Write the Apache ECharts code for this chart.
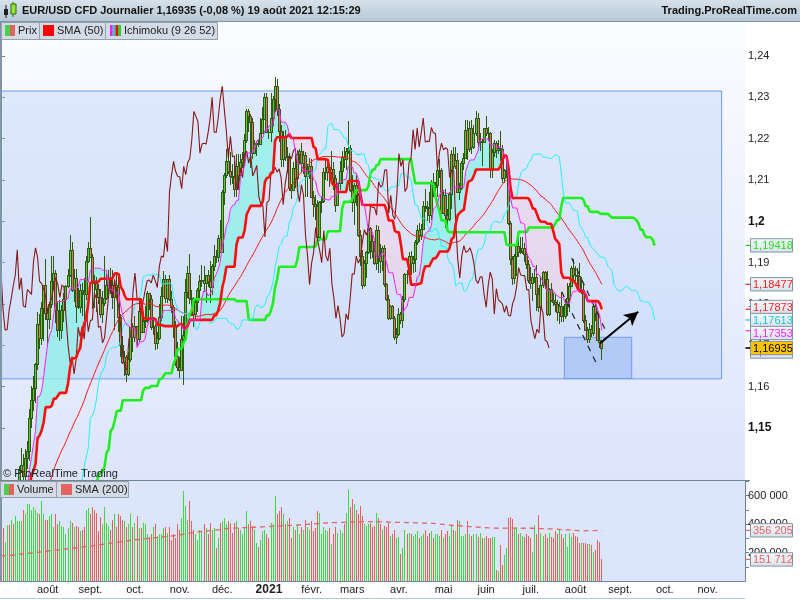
<!DOCTYPE html>
<html><head><meta charset="utf-8">
<script src="https://cdn.jsdelivr.net/npm/echarts@6/dist/echarts.min.js"></script>
<style>html,body{margin:0;padding:0;background:#fff}#c{width:800px;height:600px}</style>
</head><body><div id="c"></div><script>
// ---------- DATA ----------
const monthNames = ['janv.','févr.','mars','avr.','mai','juin','juil.','août','sept.','oct.','nov.','déc.'];
const firstDay = [2020, 6, 1];       // 1 July 2020 (month 0-based)
const slotCount = 367;               // trading-day slots up to end of Nov 2021

// history before the window (17 Apr - 30 Jun 2020), used only for the indicators
const preHigh = [1.0900,1.0900,1.0890,1.0880,1.0850,1.0827,1.0860,1.0890,1.0880,1.0973,1.1019,1.0980,1.0920,1.0845,1.0840,1.0890,1.0845,1.0875,1.0870,1.0820,1.0830,1.0925,1.0976,1.0985,1.1009,1.0952,1.0915,1.0995,1.1035,1.1093,1.1147,1.1153,1.1195,1.1258,1.1365,1.1384,1.1324,1.1350,1.1422,1.1385,1.1325,1.1325,1.1350,1.1296,1.1263,1.1226,1.1270,1.1349,1.1323,1.1260,1.1247,1.1288,1.1260];
const preLow = [1.0813,1.0850,1.0815,1.0825,1.0757,1.0760,1.0815,1.0812,1.0811,1.0840,1.0935,1.0895,1.0828,1.0782,1.0767,1.0820,1.0794,1.0800,1.0805,1.0775,1.0775,1.0805,1.0887,1.0925,1.0940,1.0870,1.0880,1.0898,1.0965,1.0980,1.1070,1.1082,1.1120,1.1165,1.1216,1.1272,1.1242,1.1260,1.1320,1.1282,1.1205,1.1213,1.1255,1.1216,1.1195,1.1168,1.1170,1.1252,1.1246,1.1183,1.1200,1.1205,1.1192];
const preClose = [1.0875,1.0863,1.0855,1.0823,1.0775,1.0820,1.0827,1.0822,1.0875,1.0955,1.0982,1.0905,1.0840,1.0795,1.0830,1.0840,1.0805,1.0850,1.0815,1.0805,1.0820,1.0915,1.0922,1.0975,1.0945,1.0900,1.0900,1.0980,1.1005,1.1077,1.1100,1.1135,1.1170,1.1235,1.1340,1.1290,1.1295,1.1340,1.1370,1.1300,1.1255,1.1320,1.1265,1.1250,1.1205,1.1175,1.1260,1.1310,1.1250,1.1220,1.1220,1.1240,1.1234];

// daily candles 1 Jul 2020 - 19 Aug 2021 : [open, high, low, close]
const priceRows = [
[1.1234,1.1270,1.1192,1.1250],[1.1250,1.1303,1.1232,1.1238],[1.1238,1.1264,1.1226,1.1245],[1.1245,1.1346,1.1240,1.1310],[1.1310,1.1318,1.1260,1.1274],
[1.1274,1.1345,1.1262,1.1330],[1.1330,1.1372,1.1273,1.1287],[1.1287,1.1318,1.1254,1.1300],[1.1300,1.1375,1.1298,1.1341],[1.1341,1.1408,1.1325,1.1398],
[1.1398,1.1452,1.1390,1.1411],[1.1411,1.1436,1.1371,1.1383],[1.1383,1.1450,1.1375,1.1428],[1.1428,1.1469,1.1402,1.1444],[1.1444,1.1546,1.1420,1.1525],
[1.1525,1.1602,1.1500,1.1568],[1.1568,1.1626,1.1541,1.1596],[1.1596,1.1658,1.1560,1.1655],[1.1655,1.1781,1.1640,1.1752],[1.1752,1.1776,1.1690,1.1717],
[1.1717,1.1805,1.1700,1.1790],[1.1790,1.1845,1.1711,1.1845],[1.1845,1.1909,1.1762,1.1778],
[1.1778,1.1790,1.1696,1.1763],[1.1763,1.1806,1.1740,1.1800],[1.1800,1.1916,1.1790,1.1856],[1.1856,1.1916,1.1835,1.1876],[1.1876,1.1882,1.1753,1.1786],
[1.1786,1.1806,1.1721,1.1737],[1.1737,1.1810,1.1711,1.1738],[1.1738,1.1798,1.1715,1.1785],[1.1785,1.1826,1.1756,1.1812],[1.1812,1.1845,1.1788,1.1843],
[1.1843,1.1885,1.1838,1.1869],[1.1869,1.1966,1.1866,1.1931],[1.1931,1.1950,1.1829,1.1835],[1.1835,1.1884,1.1804,1.1863],[1.1863,1.1884,1.1753,1.1795],
[1.1795,1.1838,1.1788,1.1792],[1.1792,1.1848,1.1778,1.1835],[1.1835,1.1850,1.1770,1.1830],[1.1830,1.1864,1.1762,1.1823],[1.1823,1.1915,1.1810,1.1903],
[1.1903,1.1950,1.1900,1.1936],
[1.1936,1.2011,1.1913,1.1913],[1.1913,1.1922,1.1789,1.1855],[1.1855,1.1869,1.1790,1.1850],[1.1850,1.1865,1.1781,1.1837],[1.1837,1.1849,1.1800,1.1817],
[1.1817,1.1836,1.1767,1.1777],[1.1777,1.1831,1.1753,1.1803],[1.1803,1.1917,1.1795,1.1814],[1.1814,1.1872,1.1810,1.1845],[1.1845,1.1883,1.1822,1.1864],
[1.1864,1.1887,1.1823,1.1846],[1.1846,1.1882,1.1789,1.1816],[1.1816,1.1828,1.1737,1.1846],[1.1846,1.1872,1.1823,1.1841],[1.1841,1.1872,1.1733,1.1769],
[1.1769,1.1777,1.1672,1.1702],[1.1702,1.1722,1.1656,1.1659],[1.1659,1.1687,1.1627,1.1672],[1.1672,1.1676,1.1612,1.1631],[1.1631,1.1684,1.1626,1.1666],
[1.1666,1.1745,1.1660,1.1744],[1.1744,1.1753,1.1685,1.1721],
[1.1721,1.1770,1.1708,1.1746],[1.1746,1.1747,1.1696,1.1715],[1.1715,1.1799,1.1708,1.1783],[1.1783,1.1806,1.1734,1.1733],[1.1733,1.1780,1.1730,1.1760],
[1.1760,1.1794,1.1742,1.1762],[1.1762,1.1831,1.1753,1.1826],[1.1826,1.1827,1.1786,1.1813],[1.1813,1.1821,1.1737,1.1744],[1.1744,1.1768,1.1724,1.1746],
[1.1746,1.1752,1.1688,1.1706],[1.1706,1.1733,1.1690,1.1718],[1.1718,1.1800,1.1712,1.1768],[1.1768,1.1842,1.1760,1.1820],[1.1820,1.1881,1.1818,1.1861],
[1.1861,1.1870,1.1803,1.1815],[1.1815,1.1860,1.1802,1.1860],[1.1860,1.1871,1.1807,1.1813],[1.1813,1.1831,1.1778,1.1793],[1.1793,1.1798,1.1717,1.1746],
[1.1746,1.1760,1.1650,1.1674],[1.1674,1.1707,1.1639,1.1647],
[1.1647,1.1671,1.1622,1.1641],[1.1641,1.1770,1.1638,1.1715],[1.1715,1.1770,1.1603,1.1724],[1.1724,1.1861,1.1710,1.1830],[1.1830,1.1891,1.1814,1.1875],
[1.1875,1.1920,1.1800,1.1815],[1.1815,1.1834,1.1772,1.1812],[1.1812,1.1817,1.1745,1.1777],[1.1777,1.1813,1.1760,1.1806],[1.1806,1.1838,1.1781,1.1833],
[1.1833,1.1869,1.1815,1.1856],[1.1856,1.1894,1.1840,1.1858],[1.1858,1.1891,1.1830,1.1851],[1.1851,1.1869,1.1802,1.1870],[1.1870,1.1883,1.1840,1.1856],
[1.1856,1.1905,1.1802,1.1840],[1.1840,1.1896,1.1821,1.1891],[1.1891,1.1942,1.1881,1.1916],[1.1916,1.1930,1.1900,1.1913],[1.1913,1.1966,1.1902,1.1960],
[1.1960,1.2004,1.1924,1.1927],
[1.1927,1.2077,1.1925,1.2071],[1.2071,1.2117,1.2040,1.2112],[1.2112,1.2176,1.2104,1.2145],[1.2145,1.2177,1.2114,1.2121],[1.2121,1.2167,1.2087,1.2109],
[1.2109,1.2138,1.2090,1.2108],[1.2108,1.2146,1.2058,1.2079],[1.2079,1.2162,1.2060,1.2133],[1.2133,1.2163,1.2080,1.2113],[1.2113,1.2162,1.2112,1.2143],
[1.2143,1.2168,1.2128,1.2152],[1.2152,1.2212,1.2134,1.2198],[1.2198,1.2273,1.2190,1.2266],[1.2266,1.2272,1.2216,1.2254],[1.2254,1.2260,1.2130,1.2241],
[1.2241,1.2250,1.2152,1.2165],[1.2165,1.2198,1.2163,1.2187],[1.2187,1.2195,1.2158,1.2189],[1.2189,1.2196,1.2180,1.2187],[1.2187,1.2250,1.2188,1.2214],
[1.2214,1.2276,1.2211,1.2248],[1.2248,1.2310,1.2246,1.2300],[1.2300,1.2310,1.2213,1.2216],
[1.2216,1.2224,1.2200,1.2215],[1.2215,1.2310,1.2193,1.2250],[1.2250,1.2304,1.2231,1.2297],[1.2297,1.2349,1.2265,1.2327],[1.2327,1.2345,1.2254,1.2271],
[1.2271,1.2283,1.2191,1.2219],[1.2219,1.2233,1.2132,1.2152],[1.2152,1.2219,1.2131,1.2206],[1.2206,1.2222,1.2145,1.2156],[1.2156,1.2181,1.2116,1.2158],
[1.2158,1.2165,1.2074,1.2081],[1.2081,1.2091,1.2054,1.2077],[1.2077,1.2144,1.2075,1.2130],[1.2130,1.2167,1.2081,1.2106],[1.2106,1.2172,1.2082,1.2164],
[1.2164,1.2176,1.2139,1.2170],[1.2170,1.2190,1.2116,1.2141],[1.2141,1.2171,1.2114,1.2160],[1.2160,1.2167,1.2058,1.2110],[1.2110,1.2138,1.2059,1.2121],
[1.2121,1.2154,1.2103,1.2135],
[1.2135,1.2152,1.2056,1.2060],[1.2060,1.2074,1.2011,1.2041],[1.2041,1.2063,1.2004,1.2037],[1.2037,1.2052,1.1952,1.1962],[1.1962,1.2050,1.1952,1.2046],
[1.2046,1.2058,1.2020,1.2050],[1.2050,1.2130,1.2044,1.2119],[1.2119,1.2149,1.2099,1.2120],[1.2120,1.2151,1.2098,1.2131],[1.2131,1.2139,1.2082,1.2119],
[1.2119,1.2169,1.2109,1.2127],[1.2127,1.2144,1.2075,1.2105],[1.2105,1.2112,1.2023,1.2040],[1.2040,1.2092,1.2038,1.2092],[1.2092,1.2145,1.2077,1.2121],
[1.2121,1.2170,1.2091,1.2156],[1.2156,1.2180,1.2128,1.2151],[1.2151,1.2178,1.2125,1.2170],[1.2170,1.2243,1.2164,1.2177],[1.2177,1.2184,1.2070,1.2075],
[1.2075,1.2113,1.2022,1.2047],[1.2047,1.2093,1.1991,1.2089],[1.2089,1.2113,1.2038,1.2063],[1.2063,1.2069,1.1963,1.1966],[1.1966,1.1978,1.1893,1.1917],
[1.1917,1.1931,1.1836,1.1847],[1.1847,1.1907,1.1840,1.1899],[1.1899,1.1929,1.1863,1.1925],[1.1925,1.1990,1.1920,1.1985],[1.1985,1.1986,1.1910,1.1953],
[1.1953,1.1966,1.1912,1.1929],[1.1929,1.1952,1.1894,1.1900],[1.1900,1.1990,1.1882,1.1978],[1.1978,1.1989,1.1874,1.1916],[1.1916,1.1946,1.1875,1.1904],
[1.1904,1.1940,1.1880,1.1935],[1.1935,1.1942,1.1842,1.1849],[1.1849,1.1852,1.1807,1.1813],[1.1813,1.1822,1.1761,1.1765],[1.1765,1.1798,1.1762,1.1796],
[1.1796,1.1798,1.1763,1.1765],[1.1765,1.1771,1.1712,1.1720],[1.1720,1.1743,1.1704,1.1728],
[1.1728,1.1790,1.1722,1.1776],[1.1776,1.1780,1.1752,1.1762],[1.1762,1.1820,1.1741,1.1813],[1.1813,1.1875,1.1806,1.1873],[1.1873,1.1882,1.1849,1.1872],
[1.1872,1.1927,1.1860,1.1916],[1.1916,1.1928,1.1870,1.1899],[1.1899,1.1917,1.1874,1.1910],[1.1910,1.1954,1.1878,1.1949],[1.1949,1.1990,1.1943,1.1980],
[1.1980,1.1995,1.1951,1.1967],[1.1967,1.1994,1.1956,1.1981],[1.1981,1.2049,1.1978,1.2037],[1.2037,1.2079,1.2022,1.2034],[1.2034,1.2050,1.2001,1.2033],
[1.2033,1.2071,1.1995,1.2015],[1.2015,1.2100,1.2003,1.2096],[1.2096,1.2117,1.2059,1.2083],[1.2083,1.2094,1.2055,1.2088],[1.2088,1.2129,1.2060,1.2124],
[1.2124,1.2150,1.2104,1.2125],[1.2125,1.2130,1.2018,1.2020],
[1.2020,1.2076,1.2017,1.2063],[1.2063,1.2079,1.1985,1.2015],[1.2015,1.2031,1.1985,1.2005],[1.2005,1.2071,1.2000,1.2065],[1.2065,1.2173,1.2030,1.2164],
[1.2164,1.2181,1.2126,1.2133],[1.2133,1.2181,1.2126,1.2149],[1.2149,1.2166,1.2070,1.2072],[1.2072,1.2092,1.2052,1.2081],[1.2081,1.2147,1.2076,1.2142],
[1.2142,1.2165,1.2125,1.2153],[1.2153,1.2245,1.2152,1.2222],[1.2222,1.2244,1.2149,1.2174],[1.2174,1.2242,1.2167,1.2226],[1.2226,1.2244,1.2163,1.2180],
[1.2180,1.2232,1.2176,1.2214],[1.2214,1.2266,1.2207,1.2250],[1.2250,1.2263,1.2181,1.2192],[1.2192,1.2213,1.2170,1.2194],[1.2194,1.2199,1.2133,1.2193],
[1.2193,1.2227,1.2190,1.2227],
[1.2227,1.2254,1.2206,1.2214],[1.2214,1.2228,1.2195,1.2213],[1.2213,1.2215,1.2104,1.2127],[1.2127,1.2175,1.2104,1.2167],[1.2167,1.2196,1.2155,1.2189],
[1.2189,1.2195,1.2154,1.2173],[1.2173,1.2198,1.2164,1.2178],[1.2178,1.2218,1.2145,1.2174],[1.2174,1.2185,1.2092,1.2106],[1.2106,1.2127,1.2093,1.2124],
[1.2124,1.2145,1.2105,1.2125],[1.2125,1.2138,1.1991,1.1995],[1.1995,1.2000,1.1895,1.1908],[1.1908,1.1917,1.1847,1.1863],[1.1863,1.1920,1.1848,1.1917],
[1.1917,1.1937,1.1867,1.1941],[1.1941,1.1975,1.1913,1.1925],[1.1925,1.1961,1.1920,1.1928],[1.1928,1.1962,1.1921,1.1936],[1.1936,1.1947,1.1902,1.1922],
[1.1922,1.1925,1.1884,1.1897],[1.1897,1.1906,1.1850,1.1857],
[1.1857,1.1890,1.1837,1.1850],[1.1850,1.1875,1.1807,1.1865],[1.1865,1.1885,1.1850,1.1866],[1.1866,1.1895,1.1782,1.1823],[1.1823,1.1839,1.1780,1.1792],
[1.1792,1.1868,1.1781,1.1845],[1.1845,1.1880,1.1838,1.1877],[1.1877,1.1880,1.1837,1.1860],[1.1860,1.1880,1.1772,1.1776],[1.1776,1.1838,1.1770,1.1837],
[1.1837,1.1850,1.1804,1.1810],[1.1810,1.1826,1.1796,1.1806],[1.1806,1.1823,1.1781,1.1800],[1.1800,1.1809,1.1760,1.1780],[1.1780,1.1806,1.1752,1.1796],
[1.1796,1.1829,1.1756,1.1772],[1.1772,1.1794,1.1756,1.1771],[1.1771,1.1812,1.1764,1.1801],[1.1801,1.1850,1.1771,1.1814],[1.1814,1.1850,1.1780,1.1843],
[1.1843,1.1892,1.1841,1.1888],[1.1888,1.1909,1.1853,1.1870],
[1.1870,1.1892,1.1855,1.1869],[1.1869,1.1886,1.1845,1.1868],[1.1868,1.1900,1.1831,1.1834],[1.1834,1.1865,1.1825,1.1835],[1.1835,1.1848,1.1755,1.1761],
[1.1761,1.1773,1.1736,1.1737],[1.1737,1.1744,1.1706,1.1716],[1.1716,1.1754,1.1705,1.1739],[1.1739,1.1750,1.1720,1.1730],[1.1730,1.1801,1.1722,1.1796],
[1.1796,1.1806,1.1759,1.1778],[1.1778,1.1784,1.1711,1.1713],[1.1713,1.1743,1.1694,1.1709],[1.1709,1.1712,1.1665,1.16935]
];

// daily volume, in thousands
const volumeK = [
380,370,277,395,395,430,400,460,420,420, 420,500,470,540,540,500,520,500,480,470, 560,470,430,
430,460,470,380,470,400,420,390,380,330, 370,420,410,380,390,380,350,360,380,500,510,
470,520,500,480,350,450,400,520,410,390, 360,430,470,380,470,460,430,420,380,400,470,380,
410,460,370,370,410,400,330,310,330,380, 400,320,330,330,370,380,340,380,290,330,300,400,
360,440,630,530,430,560,420,360,330,290, 360,350,400,370,330,410,360,370,230,300,410,
420,440,400,420,410,340,410,420,370,360, 330,370,490,400,420,390,360,270,240,290,350,360,330,
300,410,400,600,470,490,523,470,400,420, 440,300,380,360,400,330,380,360,430,380,360,
420,350,370,490,480,330,380,360,350,370, 260,330,380,340,360,340,400,480,640,520,
580,540,500,470,530,460,400,390,400,410, 380,390,480,440,400,360,390,380,410,320,330,360,300,
310,190,230,360,330,340,330,320,330,350, 300,320,330,360,320,340,350,300,330,330,320,360,
300,330,350,320,390,360,350,430,420,320, 320,330,420,330,320,330,330,310,340,300,300,
320,300,300,310,310,75,70,253,112,180, 230,440,448,434,370,380,330,340,320,310,330,320,
300,206,394,330,464,340,320,330,300,340, 310,300,350,330,360,330,300,330,240,340,310,340,
320,310,270,270,265,270,260,260,250,205, 215,285,275,151.712
];

// SMA(200) of volume, in thousands
const volumeSma200K = [
176,177,178,179,180,181,182,184,186,188, 189,191,192,194,195,197,198,200,201,203,
205,207,209,211,213,214,216,217,219,220, 222,224,225,227,229,230,232,234,236,237,
239,241,243,245,246,248,250,252,254,256, 258,260,262,264,266,268,270,272,274,276,
278,280,282,284,286,288,290,291,293,294, 296,297,299,300,302,303,305,306,308,309,
311,312,314,315,317,318,320,322,324,327, 330,333,335,337,339,341,343,345,347,349,
350,352,353,355,356,358,359,360,362,364, 366,368,370,371,372,372,373,374,374,375,
376,376,377,377,378,378,379,380,380,381, 382,383,383,384,385,386,386,387,388,389,
389,390,391,391,392,393,394,395,396,397, 398,399,400,401,402,403,404,405,406,407,
408,409,410,410,411,411,412,412,413,413, 414,414,415,415,416,416,416,417,417,417,
417,417,417,416,416,416,416,416,415,415, 415,414,414,414,413,413,413,412,412,412,
411,411,410,410,409,409,408,408,407,407, 406,406,406,405,404,402,401,399,398,396,
394,393,392,391,390,389,388,387,386,385, 384,383,382,381,380,379,378,377,376,375,
374,373,373,372,372,371,371,371,372,372, 373,373,373,372,372,372,372,371,371,371,
371,371,371,370,370,370,369,369,368,367, 367,366,365,365,364,363,362,362,361,360,
359,358,357,356,354,352,352,353,353,354, 354,355,355,355,356,356,356.205
];

// last-value tags on the price scale (value, text)
const priceTagValues = [1.19418, 1.18477, 1.17873, 1.17613, 1.17353, 1.16935];
const priceTagTexts  = ['1,19418','1,18477','1,17873','1,17613','1,17353','1,16935'];
const chikouTagValue = 1.16935, chikouTagText = '1,16935';
const volumeTagValues = [356205, 151712];
const volumeTagTexts  = ['356 205', '151 712'];
const priceTicks = [1.15,1.16,1.17,1.18,1.19,1.2,1.21,1.22,1.23,1.24];

// hand-drawn annotations, in (slot index, price) coordinates
const rectBig   = [[-0.5, 1.23153], [355.0, 1.16190]];
const rectSmall = [[277.5, 1.17194], [310.7, 1.16195]];
const dashLines = [[[281.1, 1.19113], [298.4, 1.17298]], [[276.2, 1.18297], [294.1, 1.16483]]];
const arrowLine = [[295.1, 1.17049], [313.9, 1.17813]];

// ---------- BUILD ----------
const FONT = '"Liberation Sans", Arial, sans-serif';
const dates = [];
{ let t = Date.UTC(firstDay[0], firstDay[1], firstDay[2]);
  while (dates.length < slotCount) { const d = new Date(t); const wd = d.getUTCDay();
    if (wd !== 0 && wd !== 6) dates.push(d.toISOString().slice(0, 10)); t += 86400000; } }
const monthStart = dates.map((d, i) => i > 0 && d.slice(5, 7) !== dates[i - 1].slice(5, 7));

const H = preHigh.concat(priceRows.map(r => r[1]));
const L = preLow.concat(priceRows.map(r => r[2]));
const C = preClose.concat(priceRows.map(r => r[3]));
const P = preHigh.length, N = priceRows.length;
function mid(j, n) { if (j - n + 1 < 0) return null; let hi = -Infinity, lo = Infinity;
  for (let k = j - n + 1; k <= j; k++) { hi = Math.max(hi, H[k]); lo = Math.min(lo, L[k]); } return (hi + lo) / 2; }
const tenkan = [], kijun = [], sma50 = [], chikou = [], senkouA = [], senkouB = [];
for (let i = 0; i < N; i++) { const j = i + P; tenkan.push(mid(j, 9)); kijun.push(mid(j, 26));
  let s = 0; for (let k = j - 49; k <= j; k++) s += C[k]; sma50.push(s / 50); }
for (let i = 0; i < N - 26; i++) chikou.push(C[i + 26 + P]);
for (let k = 0; k < N + 26; k++) { const j = k - 26 + P; const t = mid(j, 9), kj = mid(j, 26);
  senkouA.push(t != null && kj != null ? (t + kj) / 2 : null); senkouB.push(mid(j, 52)); }
const fillBase = tenkan.map((t, i) => Math.min(t, kijun[i]));
const fillUp = tenkan.map((t, i) => Math.max(t - kijun[i], 0));
const fillDn = tenkan.map((t, i) => Math.max(kijun[i] - t, 0));

const candleData = priceRows.map((r, i) => [i, r[0], r[3], r[2], r[1]]);
const volData = volumeK.map((v, i) => [i, v * 1000, priceRows[i][3] >= priceRows[i][0] ? 1 : 0]);
const volSma = volumeSma200K.map(v => v * 1000);

const WICK = '#2d5a10', UPC = '#5cc83a', DNC = '#e8706a';
function renderCandle(params, api) {
  const i = api.value(0), o = api.value(1), c = api.value(2), l = api.value(3), h = api.value(4);
  const pO = api.coord([i, o]), pC = api.coord([i, c]), pL = api.coord([i, l]), pH = api.coord([i, h]);
  const k = Math.floor(pO[0]);
  const yH = Math.round(pH[1]), yL = Math.round(pL[1]);
  const top = Math.round(Math.min(pO[1], pC[1])), bot = Math.round(Math.max(pO[1], pC[1]));
  const ch = [
    { type: 'rect', shape: { x: k, y: yH, width: 1, height: Math.max(1, yL - yH) }, style: { fill: WICK } },
    { type: 'rect', shape: { x: k - 1, y: top, width: 3, height: Math.max(1, bot - top + 1) }, style: { fill: WICK } }
  ];
  if (bot - top >= 2) ch.push({ type: 'rect', shape: { x: k, y: top + 1, width: 1, height: bot - top - 1 }, style: { fill: c >= o ? UPC : DNC } });
  return { type: 'group', children: ch };
}
function renderVol(params, api) {
  const i = api.value(0), v = api.value(1), up = api.value(2);
  const p = api.coord([i, v]), b = api.coord([i, 0]);
  const k = Math.floor(p[0]), yt = Math.round(p[1]), yb = Math.round(b[1]);
  return { type: 'rect', shape: { x: k, y: yt, width: 1, height: yb - yt }, style: { fill: up ? '#44d644' : '#e8605c' } };
}

const lineS = (name, data, color, width, z) => ({ name, type: 'line', data, xAxisIndex: 0, yAxisIndex: 0,
  showSymbol: false, symbol: 'none', lineStyle: { color, width }, z: z || 3, silent: true, connectNulls: false });

const option = {
  animation: false,
  textStyle: { fontFamily: FONT },
  grid: [
    { left: 0, top: 21, width: 745, height: 459, show: true, borderWidth: 0,
      backgroundColor: { type: 'linear', x: 0, y: 0, x2: 0, y2: 1, colorStops: [{ offset: 0, color: '#fbfcff' }, { offset: 1, color: '#dce5fc' }] } },
    { left: 0, top: 481, width: 745, height: 100, show: true, borderWidth: 0, backgroundColor: '#dbe5fc' }
  ],
  xAxis: [
    { type: 'category', gridIndex: 0, data: dates, boundaryGap: true, show: false },
    { type: 'value', gridIndex: 0, min: -0.5, max: slotCount - 0.5, show: false },
    { type: 'category', gridIndex: 1, data: dates, boundaryGap: true,
      axisLine: { lineStyle: { color: '#6e8596', width: 1 } },
      axisTick: { interval: (i) => monthStart[i], alignWithLabel: true, length: 4, lineStyle: { color: '#6e8596' } },
      axisLabel: { interval: (i) => monthStart[i], margin: 3, color: '#222', fontSize: 11, fontFamily: FONT,
        formatter: (v) => { const m = +v.slice(5, 7); return m === 1 ? '{y|' + v.slice(0, 4) + '}' : monthNames[m - 1]; },
        rich: { y: { fontSize: 12, fontWeight: 'bold', color: '#222', fontFamily: FONT } } },
      splitLine: { show: false } }
  ],
  yAxis: [
    { type: 'value', gridIndex: 0, position: 'right', min: 1.13742, max: 1.24847, scale: true,
      axisLine: { show: true, lineStyle: { color: '#6e8596' } },
      axisTick: { show: true, length: 4, customValues: priceTicks, lineStyle: { color: '#6e8596' } },
      axisLabel: { customValues: priceTicks, margin: 3, color: '#222', fontSize: 11, fontFamily: FONT,
        formatter: (v) => { const s = String(+v.toFixed(2)).replace('.', ',');
          return Math.round(v * 100) % 5 === 0 ? '{b|' + s + '}' : s; },
        rich: { b: { fontWeight: 'bold', fontSize: 12, color: '#111', fontFamily: FONT } } },
      splitLine: { show: false } },
    { type: 'value', gridIndex: 1, position: 'right', min: 0, max: 703400,
      axisLine: { show: true, lineStyle: { color: '#6e8596' } },
      axisTick: { show: true, length: 4, customValues: [100000,200000,300000,400000,500000,600000,700000], lineStyle: { color: '#6e8596' } },
      axisLabel: { customValues: [200000, 400000, 600000], margin: 3, color: '#222', fontSize: 11, fontFamily: FONT,
        formatter: (v) => String(v).replace(/\B(?=(\d{3})+(?!\d))/g, ' ') },
      splitLine: { show: false } }
  ],
  series: [
    { type: 'line', xAxisIndex: 1, yAxisIndex: 0, data: [], z: 1, silent: true,
      markArea: { silent: true, label: { show: false }, data: [
        [{ coord: rectBig[0], itemStyle: { color: 'rgba(170,195,245,0.30)', borderColor: '#6f9bea', borderWidth: 1 } }, { coord: rectBig[1] }],
        [{ coord: rectSmall[0], itemStyle: { color: 'rgba(120,160,240,0.35)', borderColor: '#6f9bea', borderWidth: 1 } }, { coord: rectSmall[1] }]
      ] } },
    { type: 'line', stack: 'fu', data: fillBase, showSymbol: false, symbol: 'none', lineStyle: { opacity: 0, width: 0 }, z: 2, silent: true },
    { type: 'line', stack: 'fu', data: fillUp, showSymbol: false, symbol: 'none', lineStyle: { opacity: 0, width: 0 },
      areaStyle: { color: 'rgba(140,240,232,0.75)', opacity: 1 }, z: 2, silent: true },
    { type: 'line', stack: 'fd', data: fillBase, showSymbol: false, symbol: 'none', lineStyle: { opacity: 0, width: 0 }, z: 2, silent: true },
    { type: 'line', stack: 'fd', data: fillDn, showSymbol: false, symbol: 'none', lineStyle: { opacity: 0, width: 0 },
      areaStyle: { color: 'rgba(250,205,225,0.45)', opacity: 1 }, z: 2, silent: true },
    { type: 'custom', xAxisIndex: 0, yAxisIndex: 0, data: candleData, renderItem: renderCandle, clip: true, z: 3, silent: true,
      encode: { x: 0, y: [1, 2, 3, 4] } },
    lineS('sma50', sma50, '#ff1a1a', 1, 4),
    lineS('senkouB', senkouB, '#1fee1f', 2.6, 4),
    lineS('senkouA', senkouA, '#22f4f4', 1, 4),
    lineS('chikou', chikou, '#861818', 1.1, 4),
    lineS('kijun', kijun, '#ff0d0d', 2.6, 5),
    lineS('tenkan', tenkan, '#ff22ff', 1, 5),
    { type: 'line', xAxisIndex: 1, yAxisIndex: 0, data: [], z: 10, silent: true,
      markLine: { silent: true, symbol: ['none', 'none'], label: { show: false }, data: [
        [{ coord: dashLines[0][0], lineStyle: { color: '#222', width: 1.2, type: [6, 6] } }, { coord: dashLines[0][1] }],
        [{ coord: dashLines[1][0], lineStyle: { color: '#222', width: 1.2, type: [6, 6] } }, { coord: dashLines[1][1] }],
        [{ coord: arrowLine[0], symbol: 'none', lineStyle: { color: '#000', width: 2, type: 'solid' } },
         { coord: arrowLine[1], symbol: 'arrow', symbolSize: [11, 14] }]
      ] } },
    { type: 'custom', xAxisIndex: 2, yAxisIndex: 1, data: volData, renderItem: renderVol, clip: true, silent: true, z: 2,
      encode: { x: 0, y: 1 } },
    { type: 'line', xAxisIndex: 2, yAxisIndex: 1, data: volSma, showSymbol: false, symbol: 'none', silent: true, z: 3,
      lineStyle: { color: '#e46464', width: 1.3, type: [5, 4] } }
  ]
};

const chart = echarts.init(document.getElementById('c'));
chart.setOption(option);

// ---------- overlay graphics ----------
const G = [];
const rect = (x, y, w, h, fill, stroke, z) => G.push({ type: 'rect', shape: { x, y, width: w, height: h }, z: z || 100, silent: true,
  style: { fill, stroke: stroke || null, lineWidth: stroke ? 1 : 0 } });
const line = (x1, y1, x2, y2, stroke, w, z) => G.push({ type: 'line', shape: { x1, y1, x2, y2 }, z: z || 100, silent: true, style: { stroke, lineWidth: w || 1 } });
const text = (x, y, str, fill, font, align, z) => G.push({ type: 'text', x, y, z: z || 101, silent: true,
  style: { text: str, fill, font, textAlign: align || 'left', textVerticalAlign: 'middle', align: align || 'left', verticalAlign: 'middle' } });
const grad = (a, b) => ({ type: 'linear', x: 0, y: 0, x2: 0, y2: 1, colorStops: [{ offset: 0, color: a }, { offset: 1, color: b }] });

// header
rect(0, 0, 800, 21, grad('#d6e1ea', '#b7c8d5'), null, 90);
line(0, 21.5, 800, 21.5, '#7f93a3', 1, 91);
line(6, 5, 6, 18, '#111', 1); rect(4, 9, 4, 6, '#222', null, 101);
line(13, 2, 13, 17, '#2a6a10', 1); rect(11, 4, 5, 10, '#9ae23a', '#2a6a10', 101);
text(22, 11, 'EUR/USD CFD Journalier 1,16935 (-0,08 %) 19 août 2021 12:15:29', '#111', 'bold 11px ' + FONT);
text(797, 11, 'Trading.ProRealTime.com', '#111', 'bold 11px ' + FONT, 'right');

// left frame
line(1, 21, 1, 582, '#8096a8', 2, 95);

// price legend
const legBox = (x, w, y, h) => rect(x + 0.5, y + 0.5, w, h, '#d3dce6', '#94a1ad', 100);
legBox(1, 38, 22, 17); legBox(39, 66, 22, 17); legBox(105, 112, 22, 17);
rect(5, 25, 5, 11, '#4ccf4c', null, 101); rect(10, 25, 5, 11, '#e2625e', null, 101);
text(18, 31, 'Prix', '#222', '11px ' + FONT);
rect(43, 25, 11, 11, '#ff0000', null, 101);
text(57, 31, 'SMA (50)', '#222', '11px ' + FONT);
['#ff20ff', '#20d0c8', '#ff0000', '#22cc22'].forEach((c, k) => rect(110 + k * 2.75, 25, 2.75, 11, c, null, 101));
text(124, 31, 'Ichimoku (9 26 52)', '#222', '11px ' + FONT);
text(3, 474, '© ProRealTime Trading', '#222', '11px ' + FONT);

// separator & volume legend
line(0, 480.5, 750, 480.5, '#6e8596', 1, 95);
legBox(0, 56, 481, 16); legBox(56, 72, 481, 16);
rect(4, 484, 5, 11, '#4ccf4c', null, 101); rect(9, 484, 5, 11, '#e2625e', null, 101);
text(17, 489.5, 'Volume', '#222', '11px ' + FONT);
rect(61, 484, 11, 11, '#e46464', null, 101);
text(75, 489.5, 'SMA (200)', '#222', '11px ' + FONT);
line(0, 598.5, 745, 598.5, '#b8c4d0', 1, 95);

// value tags
const TAGH = 13.3;
function tagBox(yc, str, color, bg, tickY, z) {
  if (tickY != null) line(745.5, tickY, 751, tickY, color, 1.2, z);
  rect(750.5, yc - TAGH / 2, 42, TAGH, bg || grad('#f8fafd', '#d9e1eb'), '#7e93a5', z);
  text(753, yc + 0.5, str, color, '11px ' + FONT, 'left', z + 1);
}
const tagColors = ['#22dd22', '#ff2020', '#ff2020', '#1cc4cc', '#ff22ff', '#000'];
const ys = priceTagValues.map(v => chart.convertToPixel({ yAxisIndex: 0 }, v));
const pos = ys.slice();
for (let it = 0; it < 60; it++) { let moved = false;
  for (let i = 1; i < pos.length; i++) { const d = pos[i] - pos[i - 1];
    if (d < TAGH - 0.3) { const s = (TAGH - 0.3 - d) / 2; pos[i - 1] -= s; pos[i] += s; moved = true; } }
  if (!moved) break; }
const yCh = chart.convertToPixel({ yAxisIndex: 0 }, chikouTagValue);
tagBox(pos[5] + 3.5, chikouTagText, '#8b1a1a', null, yCh, 110);
priceTagValues.forEach((v, i) => tagBox(pos[i], priceTagTexts[i], tagColors[i], i === 5 ? '#ffc400' : null, ys[i], 120 + i * 3));
volumeTagValues.forEach((v, i) => { const y = chart.convertToPixel({ yAxisIndex: 1 }, v);
  tagBox(y, volumeTagTexts[i], '#e46464', null, y, 140 + i * 3); });

chart.setOption({ graphic: G });
</script></body></html>
